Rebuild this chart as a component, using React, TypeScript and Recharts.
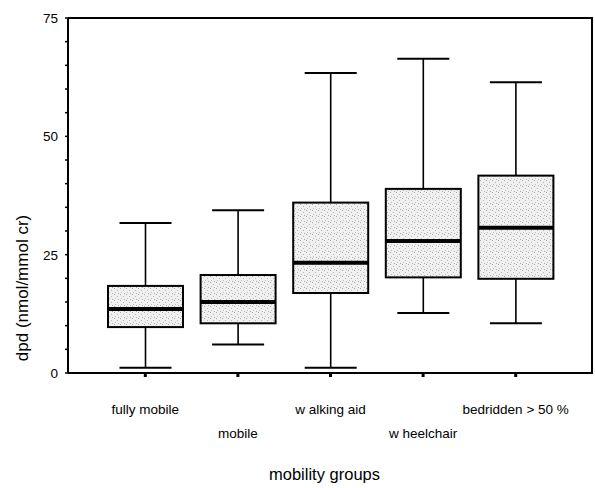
import { ComposedChart, Bar, XAxis, YAxis, CartesianGrid } from "recharts";

const categories = ["fully mobile", "mobile", "w alking aid", "w heelchair", "bedridden > 50 %"];
const whiskerLow = [1.1, 6.0, 1.1, 12.7, 10.5];
const q1 = [9.7, 10.5, 16.9, 20.2, 19.9];
const median = [13.5, 15.0, 23.3, 27.9, 30.7];
const q3 = [18.4, 20.7, 36.0, 38.9, 41.7];
const whiskerHigh = [31.7, 34.4, 63.4, 66.4, 61.4];
const yTicks = [0, 5, 10, 15, 20, 25, 30, 35, 40, 45, 50, 55, 60, 65, 70, 75];

const data = categories.map((name, i) => ({
  name,
  range: [whiskerLow[i], whiskerHigh[i]],
  low: whiskerLow[i],
  q1: q1[i],
  median: median[i],
  q3: q3[i],
  high: whiskerHigh[i],
}));

const FONT = "'Liberation Sans', Arial, sans-serif";

function BoxShape(props: any) {
  const { x, y, width, height, payload } = props;
  const top = Math.min(y, y + height);
  const bottom = Math.max(y, y + height);
  const { low, high } = payload;
  const py = (v: number) => bottom - ((v - low) / (high - low)) * (bottom - top);
  const cx = x + width / 2;
  const capW = 52;
  return (
    <g>
      <line x1={cx} x2={cx} y1={py(high)} y2={py(payload.q3)} stroke="#000" strokeWidth={1.6} />
      <line x1={cx} x2={cx} y1={py(payload.q1)} y2={py(low)} stroke="#000" strokeWidth={1.6} />
      <line x1={cx - capW / 2} x2={cx + capW / 2} y1={py(high)} y2={py(high)} stroke="#000" strokeWidth={2} />
      <line x1={cx - capW / 2} x2={cx + capW / 2} y1={py(low)} y2={py(low)} stroke="#000" strokeWidth={2} />
      <rect
        x={x}
        y={py(payload.q3)}
        width={width}
        height={py(payload.q1) - py(payload.q3)}
        fill="url(#stipple)"
        stroke="#000"
        strokeWidth={2}
      />
      <line x1={x} x2={x + width} y1={py(payload.median)} y2={py(payload.median)} stroke="#000" strokeWidth={4} />
    </g>
  );
}

function XTick(props: any) {
  const { x, y, payload } = props;
  const row = payload.index % 2;
  return (
    <text
      x={x}
      y={y + 35 + row * 24}
      textAnchor="middle"
      fontFamily={FONT}
      fontSize={13.5}
      fill="#000"
    >
      {payload.value}
    </text>
  );
}

function YTick(props: any) {
  const { x, y, payload } = props;
  if (payload.value % 25 !== 0) return null;
  return (
    <text x={x - 5} y={y + 5} textAnchor="end" fontFamily={FONT} fontSize={13.5} fill="#000">
      {payload.value}
    </text>
  );
}

function YLabel(props: any) {
  const { viewBox } = props;
  const cx = viewBox.x + 22;
  const cy = viewBox.y + 270;
  return (
    <text
      x={cx}
      y={cy}
      transform={`rotate(-90 ${cx} ${cy})`}
      textAnchor="middle"
      dominantBaseline="central"
      fontFamily={FONT}
      fontSize={17}
      fill="#000"
    >
      dpd (nmol/mmol cr)
    </text>
  );
}

export default function App() {
  return (
    <div style={{ position: "absolute", left: 0, top: 0, background: "#fff" }}>
      <ComposedChart
        width={595}
        height={488}
        data={data}
        margin={{ top: 18, right: 2, left: 0, bottom: 0 }}
      >
        <defs>
          <pattern id="stipple" width="6" height="6" patternUnits="userSpaceOnUse">
            <rect width="6" height="6" fill="#f0f0f0" />
            <rect x="0" y="0" width="1" height="1" fill="#a8a8a8" />
            <rect x="3" y="2" width="1" height="1" fill="#b8b8b8" />
            <rect x="1" y="4" width="1" height="1" fill="#c0c0c0" />
            <rect x="4" y="5" width="1" height="1" fill="#b0b0b0" />
          </pattern>
        </defs>
        <CartesianGrid
          stroke="#000"
          strokeWidth={2}
          horizontalCoordinatesGenerator={({ offset }: any) => [offset.top]}
          verticalCoordinatesGenerator={({ offset }: any) => [offset.left + offset.width - 1]}
        />
        <XAxis
          dataKey="name"
          height={115}
          padding={{ left: 31, right: 31 }}
          interval={0}
          axisLine={{ stroke: "#000", strokeWidth: 2 }}
          tickLine={{ stroke: "#000", strokeWidth: 3 }}
          tickSize={4}
          tick={<XTick />}
          label={{
            value: "mobility groups",
            position: "insideBottom",
            offset: 8,
            dx: -6,
            fontFamily: FONT,
            fontSize: 16.5,
            fill: "#000",
          }}
        />
        <YAxis
          width={68}
          domain={[0, 75]}
          ticks={yTicks}
          interval={0}
          allowDataOverflow
          axisLine={{ stroke: "#000", strokeWidth: 2 }}
          tickLine={{ stroke: "#000", strokeWidth: 1.5 }}
          tickSize={3}
          tick={<YTick />}
          label={<YLabel />}
        />
        <Bar dataKey="range" barSize={75} shape={<BoxShape />} isAnimationActive={false} />
      </ComposedChart>
    </div>
  );
}
